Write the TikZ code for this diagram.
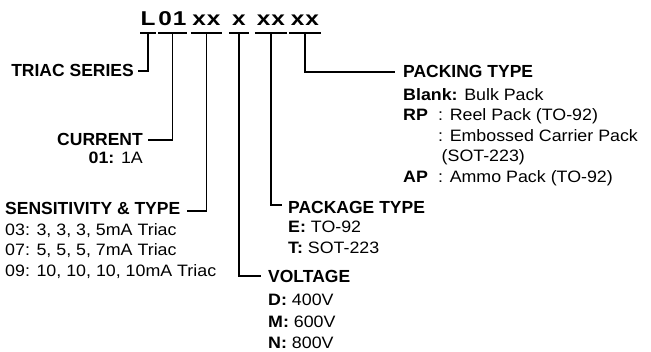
\documentclass[tikz,border=0pt]{standalone}
\usepackage{fontspec}
\setmainfont{Liberation Sans}
\newfontfamily\bodyf{Liberation Sans}[FakeStretch=1.08]
\newfontfamily\codef{Liberation Sans}[FakeStretch=1.22]
\begin{document}
\begin{tikzpicture}[x=1pt,y=-1pt,
  head/.style={font=\fontsize{17.5}{20}\selectfont\bfseries, inner sep=0pt},
  body/.style={font=\bodyf\fontsize{16.5}{20.6}\selectfont, inner sep=0pt, align=left},
  code/.style={font=\codef\fontsize{20}{20}\selectfont\bfseries, inner xsep=0pt, inner ysep=7pt,
     text height=14pt, text depth=0pt, anchor=south},
  conn/.style={draw, line width=1.2pt},
  uline/.style={draw, line width=1.8pt}]
\useasboundingbox (0,0) rectangle (651,352);
% code groups
\node[code, minimum width=12pt] (gL) at (148,33) {L};
\node[code, minimum width=25pt] (g01) at (172.5,33) {0\kern1pt 1};
\node[code, minimum width=31pt] (gS) at (206.5,33) {x\kern1pt x};
\node[code, minimum width=20pt] (gV) at (239,33) {x};
\node[code, minimum width=32pt] (gP) at (271,33) {x\kern1pt x};
\node[code, minimum width=32pt] (gK) at (305,33) {x\kern1pt x};
\foreach \g in {gL,g01,gS,gV,gP,gK}
  \draw[uline] (\g.south west) -- (\g.south east);
% labels
\node[head, anchor=base east] (triac) at (134,77) {TRIAC SERIES};
\node[head, anchor=base east] (cur) at (143,146) {CURRENT};
\node[body, anchor=base east] (curv) at (143,164) {\textbf{01:} 1A};
\node[head, anchor=base west] (sens) at (5,215) {SENSITIVITY \& TYPE};
\node[body, anchor=north west] (sensv) at (5,223) {03: 3, 3, 3, 5mA Triac\\07: 5, 5, 5, 7mA Triac\\09: 10, 10, 10, 10mA Triac};
\node[head, anchor=base west] (pkg) at (288,214) {PACKAGE TYPE};
\node[body, anchor=north west] (pkgv) at (288,221) {\textbf{E:} TO-92\\\textbf{T:} SOT-223};
\node[head, anchor=base west] (volt) at (268,283) {VOLTAGE};
\node[body, anchor=north west, font=\bodyf\fontsize{16.5}{21.5}\selectfont] (voltv) at (268,294) {\textbf{D:} 400V\\\textbf{M:} 600V\\\textbf{N:} 800V};
\node[head, anchor=base west] (pack) at (403,78) {PACKING TYPE};
\node[body, anchor=north west] (packv) at (403,88) {\textbf{Blank:} Bulk Pack\\
\makebox[35pt][l]{\textbf{RP}}: Reel Pack (TO-92)\\
\makebox[35pt][l]{}: Embossed Carrier Pack\\
\makebox[38.5pt][l]{}(SOT-223)\\
\makebox[35pt][l]{\textbf{AP}}: Ammo Pack (TO-92)};
% connectors
\coordinate (cT) at (138,71);
\coordinate (cC) at (148,140);
\coordinate (cS) at (187,211);
\coordinate (cV) at (261,276);
\coordinate (cP) at (282,205);
\coordinate (cK) at (395,72);
\draw[conn] (gL.south) |- (cT);
\draw[conn] (g01.south) |- (cC);
\draw[conn] (gS.south) |- (cS);
\draw[conn] (gV.south) |- (cV);
\draw[conn] (gP.south) |- (cP);
\draw[conn] (gK.south) |- (cK);
\end{tikzpicture}
\end{document}
